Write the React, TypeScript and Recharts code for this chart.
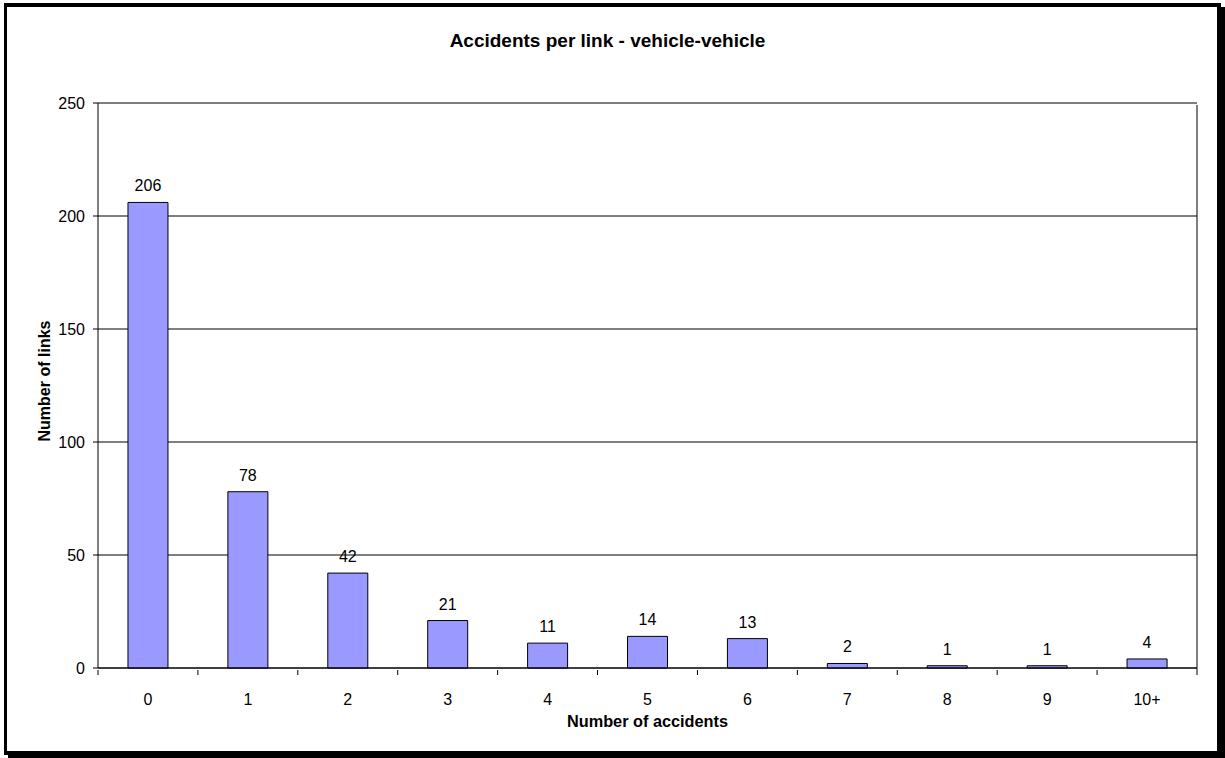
import { BarChart, Bar, XAxis, YAxis, CartesianGrid, LabelList } from "recharts";

const categories = ["0", "1", "2", "3", "4", "5", "6", "7", "8", "9", "10+"];
const links = [206, 78, 42, 21, 11, 14, 13, 2, 1, 1, 4];
const yTicks = [0, 50, 100, 150, 200, 250];

const data = categories.map((c, i) => ({ cat: c, links: links[i] }));

const FONT = '"Liberation Sans", Arial, sans-serif';
const W = 1225;
const H = 758;
const MARGIN = { top: 103, right: 28, bottom: 50, left: 38 };
const Y_AXIS_W = 60;
const X_AXIS_H = 40;
// band width and plot height, so tick marks sit between categories and the plot gets its right edge
const BAND = (W - MARGIN.left - MARGIN.right - Y_AXIS_W) / categories.length;
const PLOT_H = H - MARGIN.top - MARGIN.bottom - X_AXIS_H;

function CatTick(props: any) {
  const { x, y, payload, index } = props;
  const last = index === categories.length - 1;
  return (
    <g>
      <line x1={x - BAND / 2} y1={y} x2={x - BAND / 2} y2={y + 5} stroke="#000" />
      {last && <line x1={x + BAND / 2} y1={y - PLOT_H} x2={x + BAND / 2} y2={y + 5} stroke="#000" />}
      <text x={x} y={y + 35} textAnchor="middle" fontSize={16} fontFamily={FONT} fill="#000">
        {payload.value}
      </text>
    </g>
  );
}

export default function App() {
  return (
    <div style={{ position: "absolute", left: 0, top: 0, width: W, height: H, background: "#fff", overflow: "hidden" }}>
      <div
        style={{
          position: "absolute",
          left: 4,
          top: 3,
          width: 1217,
          height: 752,
          boxSizing: "border-box",
          borderStyle: "solid",
          borderColor: "#000",
          borderWidth: "4px 4px 4px 3px",
          boxShadow: "4px 4px 0 #000",
        }}
      />
      <div style={{ position: "absolute", left: 0, top: 0 }}>
        <BarChart width={W} height={H} data={data} margin={MARGIN} barCategoryGap="30%">
          <CartesianGrid vertical={false} stroke="#000" strokeWidth={1} />
          <XAxis
            dataKey="cat"
            height={X_AXIS_H}
            interval={0}
            tickSize={0}
            tickLine={false}
            tick={<CatTick />}
            axisLine={{ stroke: "#000" }}
          />
          <YAxis
            domain={[0, 250]}
            ticks={yTicks}
            width={Y_AXIS_W}
            tickSize={5}
            tickMargin={8}
            interval={0}
            axisLine={{ stroke: "#000" }}
            tickLine={{ stroke: "#000" }}
            tick={{ fill: "#000", fontSize: 16, fontFamily: FONT }}
          />
          <Bar dataKey="links" fill="#9999FF" stroke="#000" strokeWidth={1} isAnimationActive={false}>
            <LabelList dataKey="links" position="top" offset={11} fill="#000" fontSize={16} fontFamily={FONT} />
          </Bar>
        </BarChart>
      </div>
      <svg width={W} height={H} style={{ position: "absolute", left: 0, top: 0, pointerEvents: "none" }}>
        <text x={607.5} y={47} textAnchor="middle" fontSize={19} fontWeight="bold" fontFamily={FONT} fill="#000">
          Accidents per link - vehicle-vehicle
        </text>
        <text x={647.5} y={727} textAnchor="middle" fontSize={16.3} fontWeight="bold" fontFamily={FONT} fill="#000">
          Number of accidents
        </text>
        <text
          x={50}
          y={381}
          textAnchor="middle"
          fontSize={16}
          fontWeight="bold"
          fontFamily={FONT}
          fill="#000"
          transform="rotate(-90 50 381)"
        >
          Number of links
        </text>
      </svg>
    </div>
  );
}
